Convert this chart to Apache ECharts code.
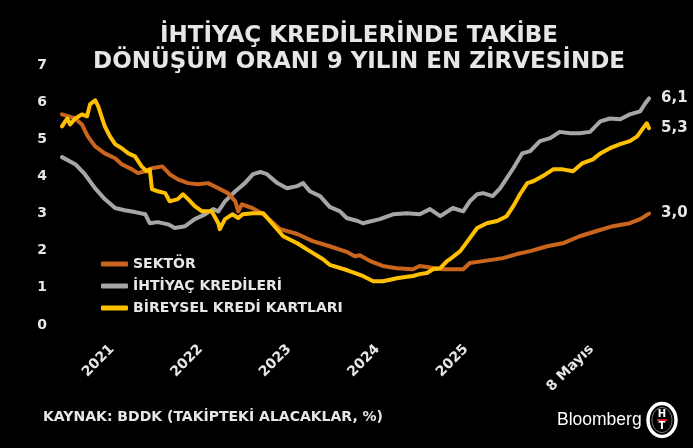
<!DOCTYPE html>
<html>
<head>
<meta charset="utf-8">
<script src="https://cdn.jsdelivr.net/npm/echarts@6/dist/echarts.min.js"></script>
<style>html,body{margin:0;padding:0;background:#000;}#c{width:693px;height:448px;}</style>
</head>
<body>
<div id="c"></div>
<script>
// x = months from the first observation, y = NPL ratio (%)
const sektor = [[0,5.67],[1.8,5.56],[2.7,5.4],[3.5,5.08],[4.5,4.81],[5.8,4.62],[7.2,4.49],[8.1,4.33],[9.5,4.19],[10.3,4.09],[11.3,4.14],[12.2,4.22],[13.6,4.27],[14.6,4.06],[15.7,3.92],[17.1,3.82],[18.4,3.79],[19.8,3.82],[21.2,3.68],[22.5,3.55],[23.5,3.33],[23.9,3.06],[24.4,3.25],[25.8,3.15],[27.3,2.98],[29.6,2.58],[31.9,2.45],[34.0,2.26],[36.3,2.12],[38.6,1.97],[39.7,1.85],[40.4,1.88],[41.8,1.72],[43.5,1.59],[45.4,1.53],[47.6,1.5],[48.5,1.59],[49.9,1.55],[51.7,1.5],[54.4,1.5],[55.3,1.67],[57.1,1.72],[59.8,1.8],[61.7,1.91],[63.5,1.99],[65.8,2.12],[67.9,2.2],[70.2,2.39],[72.5,2.53],[74.7,2.66],[77.0,2.74],[78.4,2.85],[79.6,3.0]];
const ihtiyac = [[0,4.52],[1.8,4.33],[3.1,4.06],[4.5,3.68],[5.8,3.39],[7.2,3.15],[8.5,3.09],[9.9,3.04],[11.3,2.98],[11.9,2.74],[13.0,2.77],[14.4,2.71],[15.3,2.61],[16.7,2.66],[18.0,2.85],[19.4,2.98],[20.5,3.12],[21.2,3.06],[22.1,3.33],[23.5,3.6],[24.8,3.82],[25.9,4.06],[26.9,4.12],[27.8,4.06],[29.2,3.82],[30.5,3.68],[31.9,3.74],[32.7,3.82],[33.6,3.6],[35.0,3.47],[36.3,3.18],[37.7,3.06],[38.6,2.88],[40.1,2.8],[40.8,2.74],[43.1,2.85],[44.9,2.98],[46.8,3.01],[48.5,2.98],[49.9,3.12],[51.3,2.93],[53.0,3.15],[54.4,3.06],[55.3,3.33],[56.3,3.52],[57.1,3.55],[58.4,3.47],[59.4,3.68],[60.3,3.95],[61.2,4.22],[62.4,4.62],[63.5,4.68],[64.8,4.95],[66.2,5.03],[67.5,5.2],[68.9,5.16],[70.2,5.16],[71.6,5.2],[73.0,5.48],[74.3,5.56],[75.7,5.54],[77.0,5.67],[78.4,5.75],[79.1,5.97],[79.6,6.1]];
const kartlar = [[0,5.35],[0.7,5.56],[1.1,5.4],[1.8,5.56],[2.7,5.67],[3.4,5.62],[3.8,5.94],[4.5,6.05],[4.9,5.89],[5.8,5.35],[6.5,5.08],[7.2,4.87],[8.1,4.76],[9.0,4.62],[9.9,4.54],[10.8,4.27],[11.5,4.14],[11.9,4.19],[12.2,3.66],[13.0,3.6],[14.0,3.55],[14.6,3.33],[15.7,3.39],[16.4,3.52],[17.1,3.39],[18.0,3.2],[19.0,3.06],[20.3,3.06],[21.2,2.74],[21.4,2.58],[22.1,2.85],[23.1,2.98],[23.9,2.88],[24.5,2.98],[25.9,3.01],[27.3,3.01],[28.2,2.8],[30.0,2.39],[31.9,2.2],[33.6,1.99],[35.4,1.77],[36.3,1.62],[38.6,1.48],[40.8,1.32],[42.2,1.18],[43.5,1.18],[44.5,1.22],[45.4,1.26],[46.8,1.3],[47.6,1.32],[48.5,1.37],[49.5,1.4],[50.3,1.5],[51.3,1.53],[52.2,1.72],[52.6,1.77],[54.0,1.99],[55.3,2.34],[56.3,2.61],[57.6,2.74],[59.0,2.8],[60.3,2.93],[61.2,3.2],[62.1,3.52],[63.1,3.82],[63.9,3.87],[65.2,4.01],[66.6,4.19],[67.9,4.19],[69.3,4.14],[70.6,4.36],[72.0,4.46],[73.0,4.62],[74.3,4.76],[75.7,4.87],[77.0,4.95],[78.0,5.08],[78.8,5.3],[79.3,5.43],[79.6,5.3]];
const tickPositions = [6.8, 18.8, 30.8, 42.8, 54.8, 71.8];
const tickLabels = ['2021', '2022', '2023', '2024', '2025', '8 Mayıs'];
const seriesNames = ['SEKTÖR', 'İHTİYAÇ KREDİLERİ', 'BİREYSEL KREDİ KARTLARI'];
const titleLines = ['İHTİYAÇ KREDİLERİNDE TAKİBE', 'DÖNÜŞÜM ORANI 9 YILIN EN ZİRVESİNDE'];
const sourceText = 'KAYNAK: BDDK (TAKİPTEKİ ALACAKLAR, %)';

const TXT = '#e6e6e6';
const FONT = 'DejaVu Sans';
const colors = {s: '#c9651c', i: '#a6a6a6', k: '#ffc000'};

const chart = echarts.init(document.getElementById('c'), null, {renderer: 'canvas'});
function fmt(p) { return p.value[1].toFixed(1).replace('.', ','); }
function lineSeries(name, data, color, z) {
  return {
    name, type: 'line', data, z, symbol: 'none', smooth: false,
    lineStyle: {color, width: 4, join: 'round', cap: 'round'},
    itemStyle: {color},
    endLabel: {show: true, formatter: fmt, color: TXT, fontFamily: FONT, fontWeight: 'bold', fontSize: 15, distance: 12},
    emphasis: {disabled: true}
  };
}
chart.setOption({
  backgroundColor: '#000',
  animation: false,
  grid: {left: 62, right: 44, top: 65, bottom: 123},
  xAxis: {
    type: 'value', min: 0, max: 79.6,
    axisLine: {show: false}, axisTick: {show: false}, splitLine: {show: false},
    axisLabel: {
      customValues: tickPositions,
      rotate: 45, margin: 22, color: TXT, fontFamily: FONT, fontWeight: 'bold', fontSize: 14,
      formatter: v => { const i = tickPositions.findIndex(t => Math.abs(t - v) < 0.01); return i >= 0 ? tickLabels[i] : ''; }
    }
  },
  yAxis: {
    type: 'value', min: 0, max: 7, interval: 1,
    axisLine: {show: false}, axisTick: {show: false}, splitLine: {show: false},
    axisLabel: {margin: 15, color: TXT, fontFamily: FONT, fontWeight: 'bold', fontSize: 14}
  },
  legend: {
    orient: 'vertical', left: 96, top: 252, itemGap: 8,
    itemWidth: 27, itemHeight: 5, icon: 'roundRect',
    data: seriesNames,
    textStyle: {color: TXT, fontFamily: FONT, fontWeight: 'bold', fontSize: 14},
    selectedMode: false
  },
  series: [
    lineSeries(seriesNames[1], ihtiyac, colors.i, 2),
    lineSeries(seriesNames[0], sektor, colors.s, 3),
    lineSeries(seriesNames[2], kartlar, colors.k, 4)
  ],
  graphic: [
    {type: 'text', x: 359, y: 36, style: {text: titleLines[0], fill: TXT, font: 'bold 23px "DejaVu Sans"', textAlign: 'center', textVerticalAlign: 'middle'}},
    {type: 'text', x: 359, y: 62, style: {text: titleLines[1], fill: TXT, font: 'bold 23px "DejaVu Sans"', textAlign: 'center', textVerticalAlign: 'middle'}},
    {type: 'text', x: 43, y: 417, style: {text: sourceText, fill: TXT, font: 'bold 14px "DejaVu Sans"', textVerticalAlign: 'middle'}},
    {type: 'text', x: 557, y: 420, style: {text: 'Bloomberg', fill: '#ffffff', font: '17.5px "Liberation Sans"', textVerticalAlign: 'middle'}},
    {type: 'ellipse', shape: {cx: 662, cy: 420, rx: 14, ry: 16.5}, style: {fill: '#000', stroke: '#ffffff', lineWidth: 3.5}},
    {type: 'ellipse', shape: {cx: 662, cy: 420, rx: 10, ry: 12.5}, style: {fill: 'none', stroke: '#777', lineWidth: 1}},
    {type: 'text', x: 662, y: 414, style: {text: 'H', fill: '#fff', font: 'bold 10px "DejaVu Sans"', textAlign: 'center', textVerticalAlign: 'middle'}},
    {type: 'rect', shape: {x: 657, y: 419, width: 10, height: 2}, style: {fill: '#d0202a'}},
    {type: 'text', x: 662, y: 426.5, style: {text: 'T', fill: '#fff', font: 'bold 10px "DejaVu Sans"', textAlign: 'center', textVerticalAlign: 'middle'}}
  ]
});
</script>
</body>
</html>
